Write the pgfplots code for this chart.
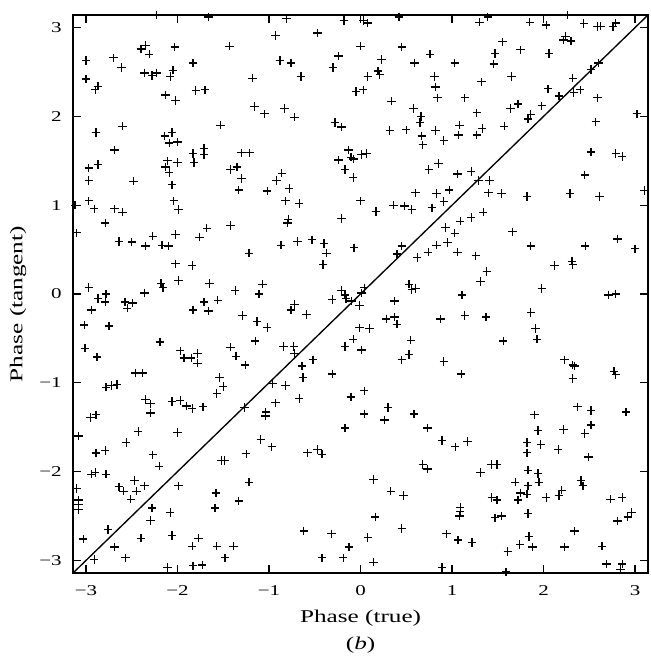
\documentclass[border=0pt]{standalone}
\usepackage{fontspec}
\setmainfont{Liberation Serif}[FakeStretch=1.4]
\usepackage{pgfplots}
\pgfplotsset{compat=1.18}
\begin{document}
\begin{tikzpicture}
\useasboundingbox (-48.7pt,-58pt) rectangle (385.3pt,382pt);
\begin{axis}[
  scale only axis, width=383.3pt, height=372pt,
  anchor=south west, at={(0,0)},
  xmin=-3.1416, xmax=3.1416, ymin=-3.1416, ymax=3.1416,
  xtick={-3,...,3}, ytick={-3,...,3},
  xticklabels={−3,−2,−1,0,1,2,3},
  yticklabels={−3,−2,−1,0,1,2,3},
  tick align=inside, major tick length=5.5pt,
  tick style={line width=0.9pt, black},
  axis line style={line width=1.3pt},
  ticklabel style={font=\fontsize{10}{12}\selectfont},
  xticklabel style={yshift=-5pt}, yticklabel style={xshift=-4pt},
  clip=false,
]
\addplot[black, line width=0.9pt] coordinates {(-3.1416,-3.1416) (3.1416,3.1416)};
\addplot[only marks, mark=+, mark size=2.8pt, black, mark options={line width=0.85pt}] table {
x y
-2.23 3.14
-2.35 2.80
-2.40 2.76
-2.31 2.70
-2.03 2.78
-3.00 2.63
-2.70 2.66
-2.61 2.55
-2.36 2.49
-2.28 2.46
-2.23 2.49
-2.05 2.52
-2.08 2.45
-3.00 2.42
-2.87 2.34
-2.90 2.30
-2.13 2.24
-2.02 2.18
-2.60 1.89
-2.89 1.82
-2.69 1.62
-2.14 1.78
-2.06 1.82
-2.09 1.70
-2.00 1.71
-2.97 1.42
-2.87 1.46
-2.11 1.50
-2.00 1.48
-2.13 1.43
-2.09 1.37
-2.97 1.28
-2.48 1.27
-2.06 1.23
-1.66 3.12
-0.81 3.10
-0.93 2.91
-0.47 2.94
-1.43 2.79
-1.83 2.60
-0.88 2.63
-0.76 2.60
-0.24 2.68
-0.30 2.55
-1.18 2.43
-0.65 2.45
-1.80 2.29
-1.70 2.30
-1.16 2.11
-1.05 2.03
-0.83 2.09
-0.72 1.99
-1.53 1.90
-0.28 1.93
-0.21 1.88
-1.83 1.58
-1.71 1.64
-1.71 1.57
-1.82 1.48
-1.30 1.59
-1.21 1.59
-1.42 1.40
-1.35 1.43
-1.30 1.30
-0.92 1.28
-0.86 1.36
-1.33 1.17
-1.02 1.16
-0.78 1.19
-0.24 1.51
-0.18 3.08
0.03 3.08
0.08 3.05
0.42 3.12
1.30 3.06
1.39 3.12
0.00 2.79
0.45 2.78
0.23 2.64
0.59 2.60
0.76 2.70
1.03 2.60
0.08 2.45
0.19 2.51
0.21 2.47
0.81 2.45
1.32 2.39
-0.05 2.28
0.03 2.30
0.82 2.33
0.84 2.21
1.14 2.21
0.34 2.17
0.58 2.09
0.66 2.00
0.65 1.93
1.27 2.04
0.32 1.84
0.50 1.85
0.82 1.84
0.91 1.73
0.67 1.78
0.68 1.68
1.08 1.90
1.07 1.79
1.33 1.865
1.27 1.79
-0.13 1.62
-0.105 1.54
-0.076 1.52
0.011 1.57
0.066 1.58
-0.17 1.40
-0.08 1.31
0.745 1.40
0.85 1.47
1.06 1.35
1.21 1.38
1.29 1.28
1.41 1.28
0.60 1.14
0.83 1.13
0.97 1.17
1.40 1.14
1.85 3.06
2.03 3.03
2.26 3.14
2.44 3.045
2.59 3.01
2.625 3.015
2.76 3.01
2.79 3.05
1.55 2.84
1.75 2.75
1.47 2.71
1.456 2.59
2.06 2.71
2.24 2.90
2.22 2.86
2.30 2.85
1.65 2.45
2.32 2.43
2.52 2.53
2.60 2.60
2.05 2.31
2.17 2.23
2.33 2.27
2.40 2.30
2.59 2.21
1.64 2.09
1.72 2.14
1.83 1.97
1.86 2.02
1.98 2.12
1.57 1.89
2.57 1.94
3.02 2.03
2.52 1.60
2.79 1.58
2.86 1.55
2.45 1.34
1.54 1.13
1.82 1.10
2.29 1.13
2.61 1.10
3.10 1.165
-3.12 1.00
-2.97 1.05
-2.91 0.96
-2.69 0.96
-2.60 0.92
-2.79 0.80
-2.04 1.05
-1.99 0.95
-3.10 0.69
-2.64 0.59
-2.50 0.585
-2.35 0.54
-2.27 0.65
-2.17 0.55
-2.10 0.54
-2.02 0.67
-2.02 0.34
-1.99 0.15
-2.18 0.12
-2.16 0.07
-2.97 0.075
-2.87 -0.05
-2.78 0.00
-2.79 -0.09
-2.94 -0.18
-2.575 -0.09
-2.55 -0.16
-2.49 -0.10
-2.36 0.01
-3.02 -0.35
-2.75 -0.36
-2.19 -0.54
-3.01 -0.61
-2.88 -0.71
-1.97 -0.64
-1.93 -0.72
-2.46 -0.89
-2.38 -0.89
-2.78 -1.05
-2.72 -1.03
-2.66 -1.02
-0.82 1.05
-0.67 1.02
-0.79 0.84
-0.80 0.80
-1.68 0.74
-1.76 0.64
-1.42 0.77
-0.87 0.55
-0.69 0.59
-0.53 0.61
-0.40 0.57
-0.37 0.46
-0.41 0.33
-1.22 0.46
-1.84 0.32
-1.65 0.12
-1.37 0.04
-1.07 0.11
-1.11 0.00
-1.71 -0.09
-1.56 -0.07
-1.83 -0.18
-1.66 -0.19
-0.72 -0.12
-0.76 -0.18
-0.59 -0.23
-0.31 -0.06
-1.29 -0.24
-1.13 -0.31
-1.02 -0.375
-1.15 -0.53
-1.42 -0.60
-1.36 -0.70
-1.26 -0.80
-0.84 -0.59
-0.73 -0.59
-0.72 -0.67
-1.78 -0.67
-1.85 -0.72
-1.78 -0.78
-0.52 -0.74
-0.64 -0.81
-0.63 -0.94
-0.31 -0.90
-1.54 -0.94
-1.50 -1.04
-0.96 -1.01
-0.82 -1.03
0.91 1.04
0.00 1.05
0.17 0.93
0.36 1.00
0.48 0.99
0.56 0.95
0.78 0.97
-0.21 0.85
1.34 0.92
1.21 0.86
1.09 0.82
0.93 0.75
1.03 0.685
0.95 0.58
0.83 0.55
0.74 0.47
1.06 0.47
1.26 0.43
-0.07 0.52
0.45 0.54
0.40 0.45
0.62 0.41
1.38 0.255
1.31 0.14
0.53 0.11
0.56 0.05
0.60 0.06
-0.21 0.04
-0.17 -0.01
-0.16 -0.05
-0.10 -0.08
-0.01 -0.13
0.01 0.01
0.04 0.07
1.11 -0.01
0.37 -0.08
0.28 -0.28
0.37 -0.26
0.40 -0.34
0.875 -0.28
1.14 -0.24
1.37 -0.26
-0.01 -0.38
0.10 -0.39
-0.17 -0.59
-0.08 -0.51
0.01 -0.63
0.55 -0.52
0.53 -0.68
0.45 -0.74
0.91 -0.76
1.10 -0.90
1.66 0.70
1.86 0.54
2.455 0.54
2.81 0.62
3.00 0.51
2.12 0.32
2.31 0.37
2.32 0.33
1.98 0.06
2.71 -0.01
2.79 0.00
1.86 -0.21
1.91 -0.39
1.93 -0.51
1.56 -0.53
2.23 -0.74
2.32 -0.80
2.34 -0.81
2.32 -0.95
2.77 -0.87
2.79 -0.91
-2.35 -1.19
-2.295 -1.236
-2.295 -1.34
-2.06 -1.21
-1.97 -1.20
-1.90 -1.26
-2.95 -1.39
-2.89 -1.36
-3.08 -1.60
-2.56 -1.67
-2.43 -1.55
-2.00 -1.56
-2.89 -1.79
-2.79 -1.76
-2.27 -1.81
-2.20 -1.94
-2.94 -2.03
-2.90 -2.01
-2.78 -2.03
-3.10 -2.19
-2.64 -2.17
-2.59 -2.22
-2.47 -2.10
-2.45 -2.22
-2.36 -2.16
-2.51 -2.31
-1.99 -2.16
-3.08 -2.32
-3.08 -2.37
-3.08 -2.43
-2.28 -2.41
-2.295 -2.55
-2.08 -2.46
-2.76 -2.65
-3.03 -2.76
-2.40 -2.75
-2.06 -2.72
-2.69 -2.85
-2.57 -2.97
-2.91 -2.99
-2.11 -3.08
-1.57 -1.12
-1.84 -1.29
-1.72 -1.27
-1.27 -1.28
-1.035 -1.33
-1.04 -1.375
-0.93 -1.225
-0.67 -1.176
-1.09 -1.64
-0.97 -1.72
-1.25 -1.80
-1.52 -1.873
-1.485 -1.873
-0.58 -1.787
-0.47 -1.75
-0.42 -1.805
-1.22 -2.12
-1.58 -2.24
-1.59 -2.41
-1.33 -2.33
-0.62 -2.67
-0.316 -2.70
-1.77 -2.75
-1.84 -2.84
-1.57 -2.84
-1.39 -2.84
-1.48 -2.97
-1.73 -3.05
-1.83 -3.06
-0.42 -2.97
-0.105 -1.16
0.04 -1.09
0.04 -1.35
0.30 -1.28
0.26 -1.42
0.585 -1.35
-0.17 -1.51
0.73 -1.51
0.89 -1.65
1.035 -1.72
1.17 -1.66
0.68 -1.92
0.73 -1.97
1.31 -2.01
0.14 -2.09
0.33 -2.22
0.47 -2.27
1.09 -2.40
1.09 -2.45
1.08 -2.50
0.16 -2.51
0.45 -2.64
0.08 -2.74
-0.127 -2.85
-0.19 -2.97
0.14 -3.02
0.94 -2.70
1.064 -2.77
1.217 -2.80
0.89 -3.08
2.37 -1.27
2.52 -1.31
2.90 -1.33
1.90 -1.36
1.94 -1.536
2.22 -1.525
2.45 -1.573
2.52 -1.476
1.82 -1.674
1.82 -1.787
1.97 -1.693
2.16 -1.75
2.49 -1.835
1.43 -1.918
1.49 -1.918
1.83 -1.985
1.94 -2.02
1.95 -2.12
1.69 -2.12
1.83 -2.16
1.75 -2.24
1.82 -2.255
1.72 -2.32
2.41 -2.10
2.43 -2.16
2.20 -2.21
2.17 -2.27
2.03 -2.29
1.435 -2.29
1.49 -2.32
1.47 -2.52
1.54 -2.50
1.83 -2.47
2.73 -2.31
2.86 -2.29
2.81 -2.555
2.92 -2.51
2.96 -2.46
2.34 -2.67
1.84 -2.73
1.74 -2.82
1.88 -2.85
1.61 -2.90
2.23 -2.85
2.64 -2.84
2.69 -3.04
2.86 -3.04
2.84 -3.10
1.59 -3.13
};
\end{axis}
\node[rotate=90, font=\fontsize{12}{14}\selectfont] at (-36.7pt,179.3pt) {Phase (tangent)};
\node[font=\fontsize{12}{14}\selectfont] at (191.7pt,-30pt) {Phase (true)};
\node[font=\fontsize{12}{14}\selectfont] at (191.7pt,-48pt) {(\textit{b})};
\end{tikzpicture}
\end{document}
